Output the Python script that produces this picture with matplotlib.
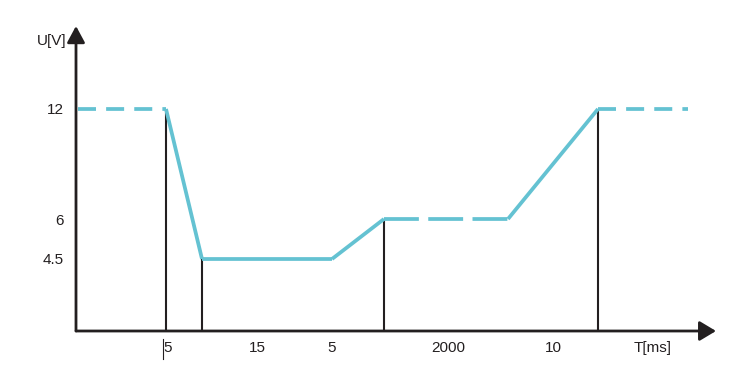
import numpy as np
import matplotlib
matplotlib.use("Agg")
import matplotlib.pyplot as plt
from matplotlib.lines import Line2D
import matplotlib.transforms as mtransforms

plt.rcParams['font.family'] = ['Liberation Sans', 'DejaVu Sans']

# ---- data (schematic time positions, voltages) ----
t_points = [0.2, 9.0, 12.6, 25.6, 30.8, 43.2, 52.2, 61.2]
u_points = [12, 12, 4.5, 4.5, 6, 6, 12, 12]
segment_styles = ['dash', 'solid', 'solid', 'solid', 'longdash', 'solid', 'dash']
drop_t = [9.0, 12.6, 30.8, 52.2]
drop_u = [12, 4.5, 6, 12]
y_ticks = [12, 6, 4.5]
y_ticklabels = ['12', '6', '4.5']
seg_labels = ['5', '15', '5', '2000', '10']
seg_label_t = [9.2, 18.1, 25.6, 37.2, 47.7]
x_unit_label = 'T[ms]'
y_unit_label = 'U[V]'

# schematic (non-proportional) voltage axis as drawn
volt_ref = np.array([0, 4.5, 6, 12, 30])
height_ref = np.array([0, 72, 112, 222, 555])

def fwd(v):
    return np.interp(v, volt_ref, height_ref)

def inv(h):
    return np.interp(h, height_ref, volt_ref)

W, H = 750, 386
fig = plt.figure(figsize=(W / 100, H / 100), dpi=100)
x0, y0, x1, y1 = 76, 331, 716, 26
ax = fig.add_axes([x0 / W, 1 - y0 / H, (x1 - x0) / W, (y0 - y1) / H])
ax.set_yscale('function', functions=(fwd, inv))
ax.set_xlim(0, 64)
ax.set_ylim(0, inv(305))
for s in ax.spines.values():
    s.set_visible(False)

cyan = '#64c2d2'
styles = {'solid': '-', 'dash': (0, (4.8, 2.7)), 'longdash': (0, (9.3, 2.5))}
for i, st in enumerate(segment_styles):
    ax.plot(t_points[i:i + 2], u_points[i:i + 2], color=cyan, lw=2.7,
            linestyle=styles[st], dash_capstyle='butt', solid_capstyle='butt',
            solid_joinstyle='miter', zorder=3)

ax.vlines(drop_t, 0, drop_u, color='#231f20', lw=1.5, zorder=2)

# axes with arrows
axis_col = '#231f20'
ax.annotate('', xy=(1, 0), xytext=(0, 0), xycoords='axes fraction',
            arrowprops=dict(arrowstyle='-|>,head_length=0.5,head_width=0.3',
                            lw=2, color=axis_col, shrinkA=0, shrinkB=0,
                            mutation_scale=20), annotation_clip=False)
ax.annotate('', xy=(0, 1), xytext=(0, 0), xycoords='axes fraction',
            arrowprops=dict(arrowstyle='-|>,head_length=0.5,head_width=0.27',
                            lw=2, color=axis_col, shrinkA=0, shrinkB=0,
                            mutation_scale=20), annotation_clip=False)

ax.set_yticks(y_ticks)
ax.set_yticklabels(y_ticklabels)
ax.set_xticks([])
ax.tick_params(axis='y', length=0, pad=9, labelsize=11, colors='#231f20')
ax.yaxis.set_minor_locator(matplotlib.ticker.NullLocator())

off = mtransforms.offset_copy(ax.get_xaxis_transform(), fig=fig, x=0, y=-17, units='dots')
for t, lab in zip(seg_label_t, seg_labels):
    ax.text(t, 0, lab, transform=off, ha='center', va='center', fontsize=11, color='#231f20')
ax.text(57.7, 0, x_unit_label, transform=off, ha='center', va='center', fontsize=11, color='#231f20')

# small stroke next to first label
stroke = mtransforms.offset_copy(ax.get_xaxis_transform(), fig=fig, x=-3, y=0, units='dots')
ax.add_line(Line2D([drop_t[0], drop_t[0]], [-8 / 305, -28 / 305], transform=stroke,
                   color='#231f20', lw=0.8, clip_on=False))

fig.text(66 / W, 1 - 41 / H, y_unit_label, ha='right', va='center', fontsize=11, color='#231f20')

fig.savefig('out.png', dpi=100)
